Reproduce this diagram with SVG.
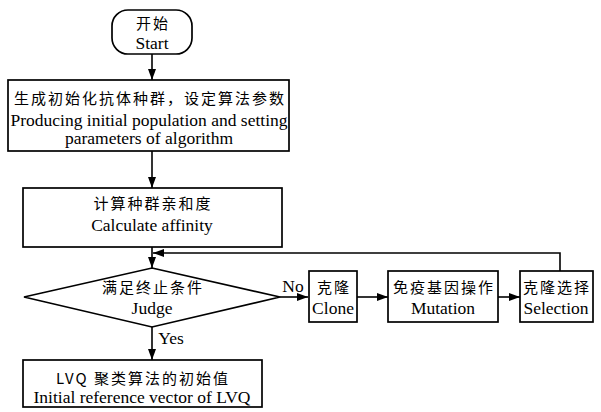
<svg xmlns="http://www.w3.org/2000/svg" width="601" height="412" viewBox="0 0 601 412">
<defs>
<marker id="ah" markerWidth="11" markerHeight="8" refX="11" refY="4" orient="auto" markerUnits="userSpaceOnUse">
<path d="M0,0 L11,4 L0,8 Z" fill="#000"/>
</marker>
</defs>
<style>
.s{fill:#fff;stroke:#000;stroke-width:1.7}
.c{fill:none;stroke:#000;stroke-width:1.6}
.zh{font-family:"Noto Sans CJK SC","Noto Sans CJK JP",serif;font-size:15px;letter-spacing:2px;text-anchor:middle}
.en{font-family:"Liberation Serif","Times New Roman",serif;font-size:17.5px;text-anchor:middle}
</style>
<rect width="601" height="412" fill="#fff"/>
<g id="connectors">
<line class="c" x1="152" y1="54" x2="152" y2="80" marker-end="url(#ah)"/>
<line class="c" x1="152" y1="151" x2="152" y2="188" marker-end="url(#ah)"/>
<line class="c" x1="152" y1="247" x2="152" y2="268" marker-end="url(#ah)"/>
<line class="c" x1="280" y1="297" x2="308" y2="297" marker-end="url(#ah)"/>
<line class="c" x1="357" y1="297" x2="388" y2="297" marker-end="url(#ah)"/>
<line class="c" x1="498" y1="297" x2="520" y2="297" marker-end="url(#ah)"/>
<polyline class="c" points="560,271 560,253 153,253" marker-end="url(#ah)"/>
<line class="c" x1="152" y1="327" x2="152" y2="360" marker-end="url(#ah)"/>
<text class="en" x="293" y="292">No</text>
<text class="en" x="171" y="344">Yes</text>
</g>
<g id="start">
<rect class="s" x="112" y="10" width="80" height="44" rx="16"/>
<text class="zh" x="153" y="29">开始</text>
<text class="en" x="152" y="49">Start</text>
</g>
<g id="init">
<rect class="s" x="8" y="80" width="281" height="71"/>
<text class="zh" x="150" y="104">生成初始化抗体种群，设定算法参数</text>
<text class="en" x="149" y="126">Producing initial population and setting</text>
<text class="en" x="149" y="144">parameters of  algorithm</text>
</g>
<g id="affinity">
<rect class="s" x="23" y="188" width="259" height="59"/>
<text class="zh" x="153" y="209">计算种群亲和度</text>
<text class="en" x="152" y="231">Calculate affinity</text>
</g>
<g id="judge">
<polygon class="s" points="152,268 280,297 152,327 24,297"/>
<text class="zh" x="153" y="293">满足终止条件</text>
<text class="en" x="152" y="314">Judge</text>
</g>
<g id="clone">
<rect class="s" x="309" y="271" width="48" height="51"/>
<text class="zh" x="334" y="293">克隆</text>
<text class="en" x="333" y="314">Clone</text>
</g>
<g id="mutation">
<rect class="s" x="388" y="271" width="110" height="51"/>
<text class="zh" x="444" y="293">免疫基因操作</text>
<text class="en" x="443" y="314">Mutation</text>
</g>
<g id="selection">
<rect class="s" x="520" y="271" width="73" height="51"/>
<text class="zh" x="557" y="293">克隆选择</text>
<text class="en" x="556" y="314">Selection</text>
</g>
<g id="result">
<rect class="s" x="23" y="360" width="239" height="47"/>
<text class="zh" x="143" y="384">LVQ 聚类算法的初始值</text>
<text class="en" x="142" y="403">Initial reference vector of LVQ</text>
</g>
</svg>
